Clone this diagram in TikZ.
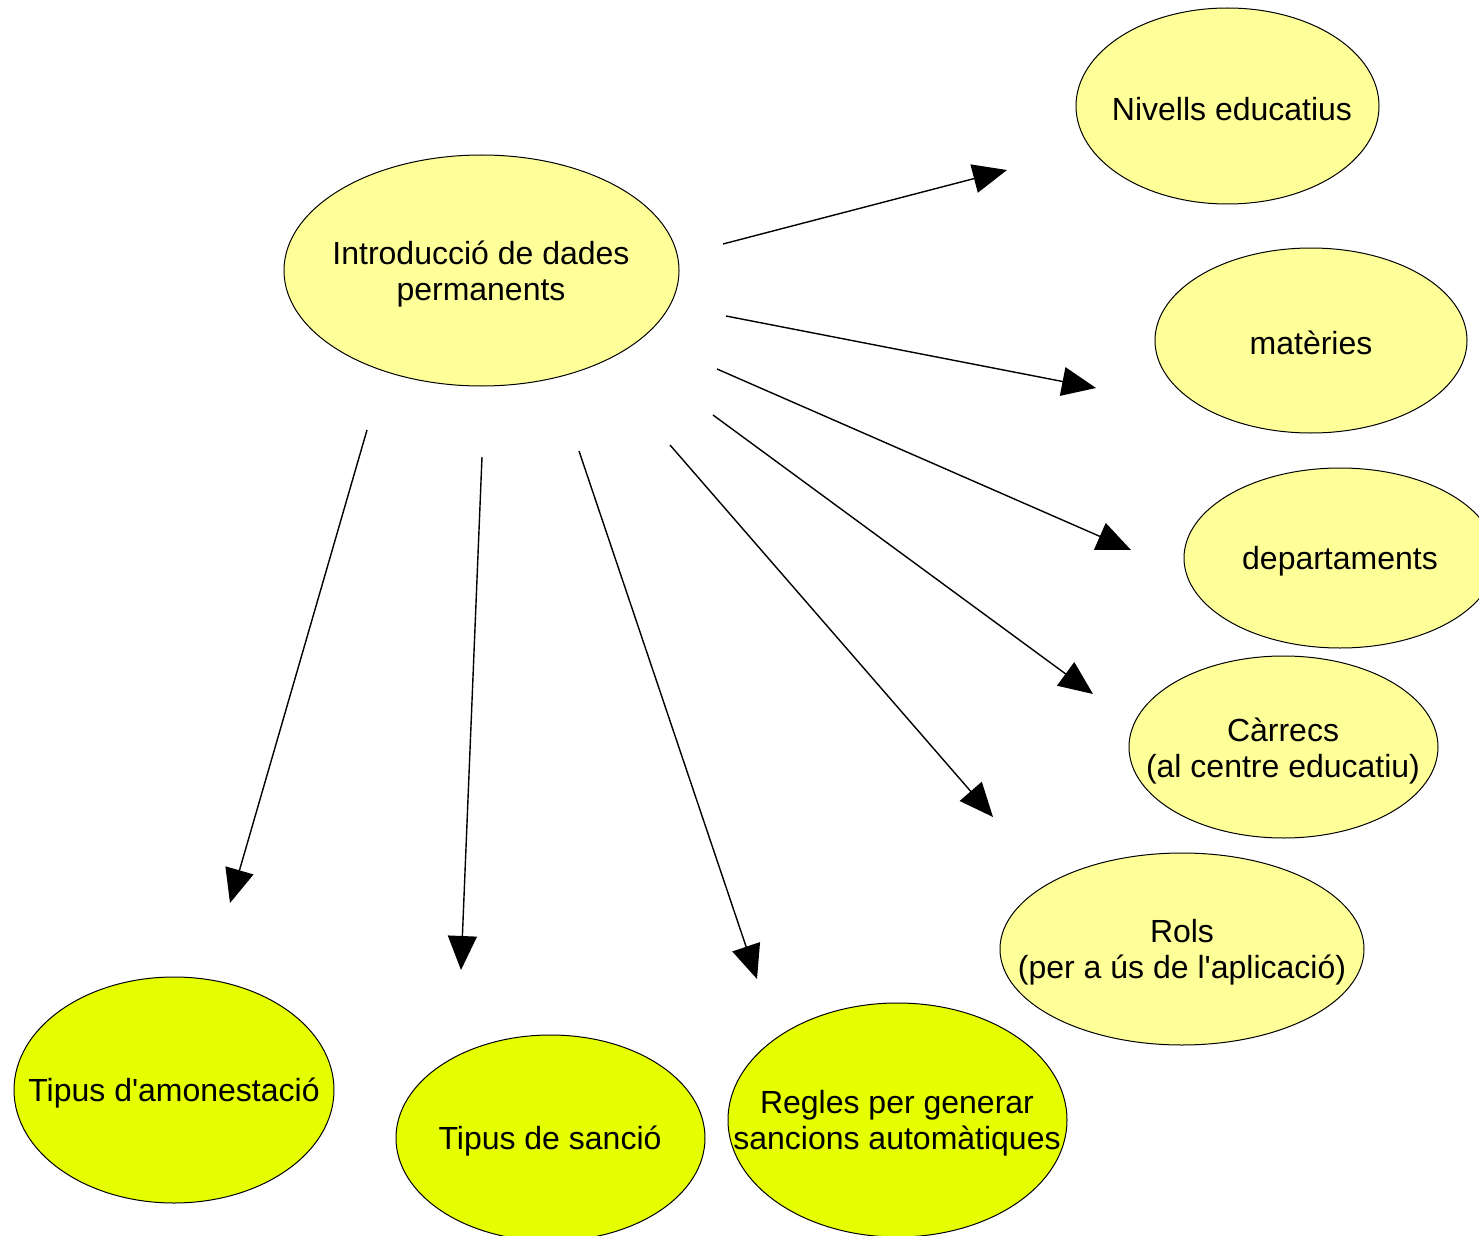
\documentclass[tikz,border=0pt]{standalone}
\usepackage{fontspec}
\setmainfont{Liberation Sans}
\usetikzlibrary{arrows.meta,shapes.geometric}
\definecolor{paleyel}{HTML}{FFFF99}
\definecolor{brightyel}{HTML}{E6FF00}
\tikzset{
  ell/.style={ellipse,draw=black,line width=0.5pt,inner sep=0pt},
  pale/.style={ell,fill=paleyel},
  bright/.style={ell,fill=brightyel},
  lbl/.style={align=center,font=\fontsize{16}{18}\selectfont,inner sep=0pt},
  arr/.style={line width=0.7pt,-{Triangle[length=17pt,width=14.5pt]}}
}
\begin{document}
\begin{tikzpicture}[x=0.5pt,y=-0.5pt]
\useasboundingbox (0,0) rectangle (1479,1236);
\begin{scope}
\clip (0,0) rectangle (1479,1236);
\node (intro) [pale,minimum width=197.5pt,minimum height=115.5pt] at (481.5,270.5) {};
\node (niv) [pale,minimum width=151.5pt,minimum height=98pt] at (1227.5,106) {};
\node (mat) [pale,minimum width=156pt,minimum height=92.5pt] at (1311,340.5) {};
\node (dep) [pale,minimum width=156pt,minimum height=90pt] at (1340,558) {};
\node (car) [pale,minimum width=154.5pt,minimum height=91pt] at (1283.5,747) {};
\node (rol) [pale,minimum width=182pt,minimum height=96pt] at (1182,949) {};
\node (amo) [bright,minimum width=160pt,minimum height=113pt] at (174,1090) {};
\node (san) [bright,minimum width=154.5pt,minimum height=103pt] at (550.5,1138) {};
\node (reg) [bright,minimum width=169.5pt,minimum height=117pt] at (897.5,1120) {};
\end{scope}
\node (tintro) [lbl] at (481,274) {Introducció de dades\\permanents};
\node (tniv) [lbl] at (1232,109) {Nivells educatius};
\node (tmat) [lbl] at (1311,343) {matèries};
\node (tdep) [lbl] at (1340,561) {departaments};
\node (tcar) [lbl] at (1283,751) {Càrrecs\\(al centre educatiu)};
\node (trol) [lbl] at (1182,952) {Rols\\(per a ús de l\textquotesingle aplicació)};
\node (tamo) [lbl] at (174,1093) {Tipus d\textquotesingle amonestació};
\node (tsan) [lbl] at (550,1141) {Tipus de sanció};
\node (treg) [lbl] at (897,1123) {Regles per generar\\sancions automàtiques};
\coordinate (s1) at (723,244); \coordinate (e1) at (1007,170);
\coordinate (s2) at (726,316); \coordinate (e2) at (1096,388);
\coordinate (s3) at (717,369); \coordinate (e3) at (1131,550);
\coordinate (s4) at (713,415); \coordinate (e4) at (1093,694);
\coordinate (s5) at (670,445); \coordinate (e5) at (993,817);
\coordinate (s6) at (579,451); \coordinate (e6) at (757,979);
\coordinate (s7) at (482,457); \coordinate (e7) at (461,970);
\coordinate (s8) at (367,430); \coordinate (e8) at (230,903);
\foreach \i in {1,...,8} { \draw[arr] (s\i) -- (e\i); }
\end{tikzpicture}
\end{document}
